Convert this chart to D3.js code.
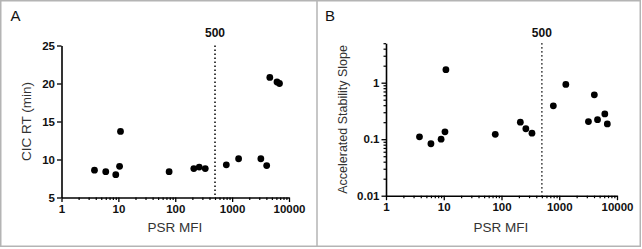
<!DOCTYPE html>
<html><head><meta charset="utf-8">
<script src="https://cdn.jsdelivr.net/npm/d3@7"></script>
<style>
html,body{margin:0;padding:0;background:#fff;}
svg{display:block;font-family:"Liberation Sans",Arial,sans-serif;}
</style></head>
<body>
<svg id="chart" width="642" height="249"></svg>
<script>
// ---- data ----
const psrMFI   = [3.8, 6.0, 9.0, 10.5, 10.9, 78, 212, 264, 337, 790, 1300, 3200, 4050, 4600, 6150, 6800];
const cicRT    = [8.6, 8.4, 8.0, 9.1, 13.7, 8.4, 8.8, 9.0, 8.8, 9.3, 10.1, 10.1, 9.2, 20.8, 20.2, 20.0];
const psrMFI_B = [3.8, 6.0, 9.0, 10.5, 10.9, 78, 212, 264, 337, 790, 1300, 3200, 4050, 4600, 6150, 6800];
const slope    = [0.11, 0.083, 0.10, 0.135, 1.7, 0.122, 0.20, 0.153, 0.128, 0.39, 0.93, 0.205, 0.61, 0.222, 0.28, 0.186];
const xTicks   = [1, 10, 100, 1000, 10000];
const yTicksA  = [5, 10, 15, 20, 25];
const yTicksB  = [0.01, 0.1, 1];
const cutoff   = 500;
const panelLabels = ["A", "B"];
const xTitle = "PSR MFI";
const yTitleA = "CIC RT (min)";
const yTitleB = "Accelerated Stability Slope";

const svg = d3.select("#chart");

// frame
svg.append("rect").attr("x",0.75).attr("y",0.75).attr("width",639.5).attr("height",245.5)
  .attr("fill","none").attr("stroke","#b4b4b4").attr("stroke-width",1.5);
svg.append("line").attr("x1",317).attr("x2",317).attr("y1",0).attr("y2",246.5)
  .attr("stroke","#b4b4b4").attr("stroke-width",1.5);

function minorVals(lo, hi){
  const out=[];
  for(let e=Math.floor(Math.log10(lo)); e<Math.ceil(Math.log10(hi)); e++){
    for(let m=2;m<=9;m++){const v=m*Math.pow(10,e); if(v>lo && v<=hi+1e-12) out.push(v);}
  }
  return out;
}

function styleAxis(g){
  g.selectAll("path.domain").attr("stroke","#000").attr("stroke-width",1.6);
  g.selectAll(".tick line").attr("stroke","#000").attr("stroke-width",1.3);
  g.selectAll(".tick text").attr("font-family","'Liberation Sans',Arial,sans-serif")
    .attr("font-size",11.5).attr("font-weight","bold").attr("fill","#111");
}

function panel(cfg){
  const {x, y, xs, ys, yTicks, yFmt, yMinor, yTitle, yTitleX, yTitleSize, label, labelX, xTitleX} = cfg;
  const g = svg.append("g");
  const yBottom = y.range()[0], yTop = y.range()[1];

  // x minor ticks
  g.append("g").attr("transform",`translate(0,${yBottom})`)
    .call(d3.axisBottom(x).tickValues(minorVals(1,10000)).tickSize(2.5).tickSizeOuter(0).tickFormat(""))
    .call(a=>{a.select(".domain").remove(); a.selectAll(".tick line").attr("stroke","#000").attr("stroke-width",1.2);});
  // x axis
  const gx = g.append("g").attr("transform",`translate(0,${yBottom})`)
    .call(d3.axisBottom(x).tickValues(xTicks).tickSize(4.5).tickSizeOuter(0).tickPadding(3).tickFormat(d3.format("d")));
  styleAxis(gx);

  // y minor ticks
  if(yMinor){
    g.append("g").attr("transform",`translate(${x.range()[0]},0)`)
      .call(d3.axisLeft(y).tickValues(yMinor).tickSize(2.5).tickSizeOuter(0).tickFormat(""))
      .call(a=>{a.select(".domain").remove(); a.selectAll(".tick line").attr("stroke","#000").attr("stroke-width",1.2);});
  }
  const gy = g.append("g").attr("transform",`translate(${x.range()[0]},0)`)
    .call(d3.axisLeft(y).tickValues(yTicks).tickSize(4.5).tickSizeOuter(0).tickPadding(2).tickFormat(yFmt));
  styleAxis(gy);

  // cutoff dotted line
  g.append("line").attr("x1",x(cutoff)).attr("x2",x(cutoff)).attr("y1",yTop).attr("y2",yBottom)
    .attr("stroke","#000").attr("stroke-width",1.5).attr("stroke-dasharray","1.4,2.6");
  g.append("text").attr("x",x(cutoff)).attr("y",37).attr("text-anchor","middle")
    .attr("font-size",12).attr("font-weight","bold").attr("fill","#111").text(String(cutoff));

  // points
  g.selectAll("circle.pt").data(xs.map((v,i)=>[v,ys[i]])).enter().append("circle")
    .attr("class","pt").attr("cx",d=>x(d[0])).attr("cy",d=>y(d[1])).attr("r",3.4).attr("fill","#000");

  // titles
  g.append("text").attr("x",xTitleX).attr("y",232).attr("text-anchor","middle")
    .attr("font-size",13.5).attr("fill","#333").text(xTitle);
  const ym = (yBottom+yTop)/2;
  g.append("text").attr("transform",`translate(${yTitleX},${ym}) rotate(-90)`).attr("text-anchor","middle")
    .attr("font-size",yTitleSize).attr("fill","#333").text(yTitle);
  g.append("text").attr("x",labelX).attr("y",20.5).attr("font-size",15).attr("fill","#111").text(label);
}

// Panel A
const xA = d3.scaleLog().domain([1,10000]).range([61.5,289]);
const yA = d3.scaleLinear().domain([5,25]).range([197.5,45.5]);
panel({x:xA, y:yA, xs:psrMFI, ys:cicRT, yTicks:yTicksA, yFmt:d3.format("d"), yMinor:null,
  yTitle:yTitleA, yTitleX:31, yTitleSize:13.5, label:panelLabels[0], labelX:10.5, xTitleX:175});

// Panel B
const xB = d3.scaleLog().domain([1,10000]).range([386,617]);
const yB = d3.scaleLog().domain([0.01,5]).range([195.7,43.2]);
panel({x:xB, y:yB, xs:psrMFI_B, ys:slope, yTicks:yTicksB, yFmt:d=>String(d), yMinor:minorVals(0.01,5),
  yTitle:yTitleB, yTitleX:347, yTitleSize:12.5, label:panelLabels[1], labelX:325, xTitleX:501});
</script>
</body></html>
